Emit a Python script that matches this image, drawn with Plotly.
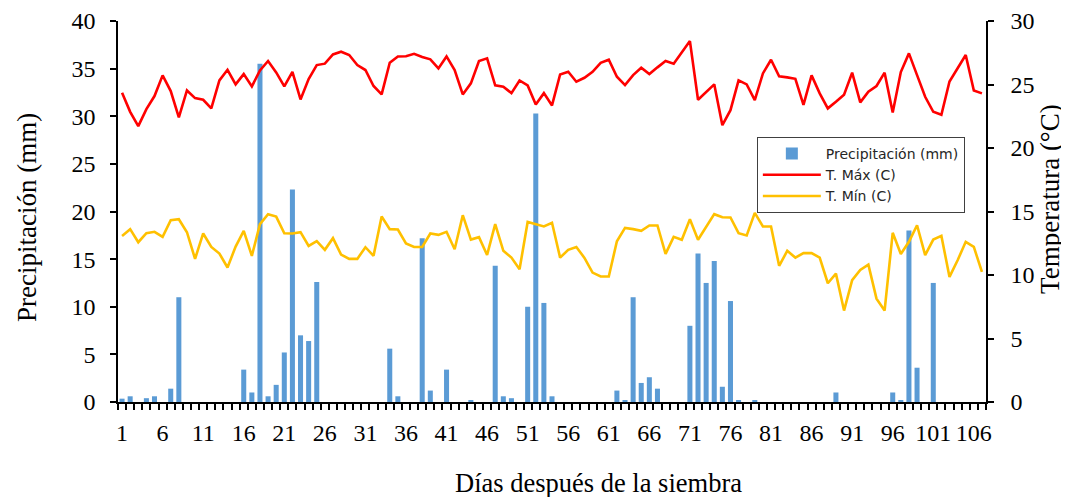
import plotly.graph_objects as go

days = list(range(1, 108))

precip_mm = [0.35, 0.6, 0, 0.4, 0.6, 0, 1.4, 11.0,
             0, 0, 0, 0, 0, 0, 0,
             3.4, 1.0, 35.5, 0.6, 1.8, 5.2, 22.3, 7.0, 6.4, 12.6,
             0, 0, 0, 0, 0, 0, 0, 0,
             5.6, 0.6, 0, 0, 17.2, 1.2, 0, 3.4, 0, 0, 0.2, 0, 0,
             14.3, 0.6, 0.4, 0, 10.0, 30.3, 10.4, 0.6,
             0, 0, 0, 0, 0, 0, 0,
             1.2, 0.2, 11.0, 2.0, 2.6, 1.4, 0, 0, 0,
             8.0, 15.6, 12.5, 14.8, 1.6, 10.6, 0.2, 0, 0.2,
             0, 0, 0, 0, 0, 0, 0, 0, 0,
             1.0, 0, 0, 0, 0, 0, 0,
             1.0, 0.2, 18.0, 3.6, 0, 12.5,
             0, 0, 0, 0, 0, 0]

t_max = [24.35, 22.85, 21.72, 23.06, 24.09, 25.72, 24.48, 22.41, 24.53, 23.93, 23.80, 23.12, 25.32, 26.16, 25.01, 25.82, 24.85, 26.1,
         26.85, 25.95, 24.85, 26.0, 23.82, 25.43, 26.53, 26.64, 27.37, 27.58, 27.32, 26.53, 26.14, 24.88, 24.22, 26.71, 27.21, 27.22,
         27.42, 27.16, 26.98, 26.27, 27.21, 26.14, 24.22, 25.09, 26.85, 27.06, 24.93, 24.82, 24.32, 25.32, 24.93, 23.43, 24.32, 23.35,
         25.79, 26.0, 25.22, 25.53, 26.0, 26.71, 26.95, 25.61, 24.95, 25.74, 26.32, 25.82, 26.35, 26.85, 26.64, 27.58, 28.42, 23.8,
         24.43, 25.01, 21.80, 22.98, 25.32, 25.01, 23.77, 25.87, 26.95, 25.64, 25.56, 25.45, 23.40, 25.72, 24.30, 23.12, 23.64, 24.2,
         25.93, 23.59, 24.43, 24.88, 25.93, 22.80, 25.98, 27.45, 25.74, 24.03, 22.85, 22.62, 25.24, 26.32, 27.32, 24.53, 24.30]

t_min = [13.08, 13.61, 12.58, 13.29, 13.40, 13.00, 14.32, 14.39, 13.37, 11.27, 13.27, 12.21, 11.69, 10.59, 12.24, 13.48, 11.51, 14.0,
         14.79, 14.60, 13.29, 13.27, 13.37, 12.29, 12.66, 11.98, 12.90, 11.61, 11.27, 11.27, 12.19, 11.51, 14.60, 13.61, 13.58, 12.48,
         12.21, 12.21, 13.27, 13.16, 13.40, 12.03, 14.71, 12.79, 12.98, 11.58, 14.00, 11.90, 11.37, 10.45, 14.18, 14.03, 13.82, 14.11,
         11.37, 11.98, 12.21, 11.35, 10.19, 9.88, 9.88, 12.66, 13.71, 13.61, 13.48, 13.90, 13.90, 11.66, 13.0, 12.77, 14.39, 12.78,
         13.82, 14.79, 14.55, 14.53, 13.29, 13.11, 14.89, 13.82, 13.82, 10.72, 11.90, 11.37, 11.72, 11.72, 11.37, 9.35, 10.11, 7.20,
         9.59, 10.40, 10.82, 8.14, 7.20, 13.32, 11.66, 12.61, 13.92, 11.56, 12.79, 13.08, 9.85, 11.16, 12.61, 12.21, 10.24]

x_tick_vals = list(range(1, 108, 5))
x_tick_text = [str(v) for v in x_tick_vals]
boundaries = [d + 0.5 for d in range(0, 108)]

x_title = "Días después de la siembra"
y_title = "Precipitación (mm)"
y2_title = "Temperatura (°C)"

serif = "Liberation Serif"
fig = go.Figure()
fig.add_trace(go.Bar(x=days, y=precip_mm, name="Precipitación (mm)",
                     marker=dict(color="#5B9BD5", line=dict(width=0)), yaxis="y"))
fig.add_trace(go.Scatter(x=days, y=t_max, name="T. Máx (C)", mode="lines",
                         line=dict(color="#FF0000", width=2.6), yaxis="y2"))
fig.add_trace(go.Scatter(x=days, y=t_min, name="T. Mín (C)", mode="lines",
                         line=dict(color="#FFC000", width=2.6), yaxis="y2"))

axis_common = dict(showline=True, linecolor="black", linewidth=1.5, showgrid=False,
                   zeroline=False, automargin=False)

fig.update_layout(
    width=1061, height=489,
    margin=dict(l=110, r=83, t=13, b=95),
    plot_bgcolor="white", paper_bgcolor="white",
    bargap=0.38,
    showlegend=True,
    legend=dict(x=0.736, y=0.6955, xanchor="left", yanchor="top",
                bgcolor="white", bordercolor="#404040", borderwidth=1,
                font=dict(family="DejaVu Sans", size=14, color="#262626"),
                itemwidth=58, tracegroupgap=0),
    xaxis=dict(range=[0.5, 107.5], tickmode="array", tickvals=x_tick_vals, ticktext=x_tick_text,
               ticks="", tickfont=dict(family=serif, size=24, color="black"), ticklabelstandoff=8,
               minor=dict(tickmode="array", tickvals=boundaries, ticks="outside", ticklen=6,
                          tickcolor="black", tickwidth=1.5, showgrid=False),
               **axis_common),
    yaxis=dict(range=[0, 40], dtick=5, ticks="outside", ticklen=6, tickcolor="black", tickwidth=1.5,
               tickfont=dict(family=serif, size=24, color="black"), ticklabelstandoff=10,
               **axis_common),
    yaxis2=dict(range=[0, 30], dtick=5, overlaying="y", side="right", ticks="outside", ticklen=6,
                tickcolor="black", tickwidth=1.5,
                tickfont=dict(family=serif, size=24, color="black"), ticklabelstandoff=12,
                **axis_common),
    annotations=[
        dict(text=x_title, xref="paper", yref="paper", x=0.553, y=-0.2126,
             xanchor="center", yanchor="middle", showarrow=False,
             font=dict(family=serif, size=26.5, color="black")),
        dict(text=y_title, xref="paper", yref="paper", x=-0.1048, y=0.483,
             xanchor="center", yanchor="middle", showarrow=False, textangle=-90,
             font=dict(family=serif, size=27, color="black")),
        dict(text=y2_title, xref="paper", yref="paper", x=1.0737, y=0.533,
             xanchor="center", yanchor="middle", showarrow=False, textangle=-90,
             font=dict(family=serif, size=27, color="black")),
    ],
)

fig.write_html("out.html")
